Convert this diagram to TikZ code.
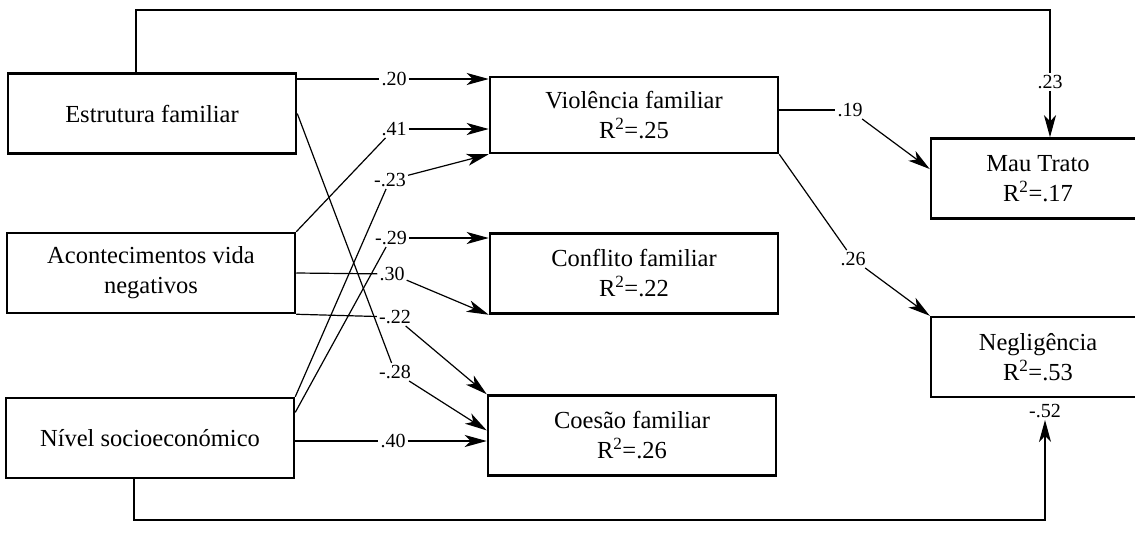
\documentclass[tikz,border=0pt]{standalone}
\usepackage{fontspec}
\setmainfont{Liberation Serif}
\usetikzlibrary{arrows.meta}
\tikzset{
box/.style={
	  draw, line width=2.5pt, rectangle, align=center, minimum
    width=288pt, minimum height=80pt, inner sep=0pt,
	    font=\fontsize{24.5}{30}\selectfont},
coef/.style={inner sep=2pt, font=\fontsize{20}{24}\selectfont},
link/.style={line width=1.2pt},
effect/.style={link, -{Stealth[length=22pt, width=12pt, inset=6pt]}}
}
\newcommand{\rsq}[1]{R\textsuperscript{2}=#1}

\begin{document}
\begin{tikzpicture}[x=1pt, y=-1pt]
	\useasboundingbox (0,0) rectangle (1135,539);
	\node[box] (estrutura) at (152,113.5) {Estrutura familiar};
	\node[box] (acontecimentos) at (151,273) {Acontecimentos vida\\negativos};
	\node[box] (nivel) at (150,438) {Nível socioeconómico};
	\node[box, minimum height=76pt] (violencia) at (634,115) {Violência familiar\\\rsq{.25}};
	\node[box] (conflito) at (634,273.5) {Conflito familiar\\\rsq{.22}};
	\node[box] (coesao) at (632,435.5) {Coesão familiar\\\rsq{.26}};
	\node[box, minimum width=214pt] (mautrato) at (1038,178.5) {Mau Trato\\\rsq{.17}};
	\node[box, minimum width=214pt] (negligencia) at (1038,357) {Negligência\\\rsq{.53}};

	\node[coef] (c20) at (394,79) {.20};
	\node[coef] (c41) at (394,129) {.41};
	\node[coef] (c23) at (390,180) {-.23};
	\node[coef] (c29) at (391,238) {-.29};
	\node[coef] (c30) at (392,274) {.30};
	\node[coef] (c22) at (395,317) {-.22};
	\node[coef] (c28) at (395,372) {-.28};
	\node[coef] (c40) at (393,441) {.40};
	\node[coef] (c19) at (850,110) {.19};
	\node[coef] (c26) at (853,259) {.26};
	\node[coef] (c23mt) at (1050,82) {.23};
	\node[coef] (c52) at (1045,411) {-.52};
	\coordinate (top) at (0,10);
	\coordinate (bottom) at (0,520);

	\draw[link] (estrutura.east |- c20) -- (c20);
	\draw[effect] (c20) -- (violencia.west |- c20);
	\draw[link] (acontecimentos.north east) -- (c41);
	\draw[effect] (c41) -- (violencia.west |- c41);
	\draw[link] (nivel.north east) -- (c23);
	\draw[effect] (c23) -- (violencia.south west);
	\draw[link] (nivel.10) -- (c29);
	\draw[effect] (c29) -- (conflito.west |- c29);
	\draw[link] (acontecimentos.east) -- (c30);
	\draw[effect] (c30) -- (conflito.south west);
	\draw[link] (acontecimentos.south east) -- (c22);
	\draw[effect] (c22) -- (coesao.north west);
	\draw[link] (estrutura.east) -- (c28);
	\draw[effect] (c28) -- (coesao.178);
	\draw[link] (nivel.east |- c40) -- (c40);
	\draw[effect] (c40) -- (coesao.west |- c40);
	\draw[link] (violencia.east |- c19) -- (c19);
	\draw[effect] (c19) -- (mautrato.175);
	\draw[link] (violencia.south east) -- (c26);
	\draw[effect] (c26) -- (negligencia.north west);
	\draw[link] ([xshift=-16pt]estrutura.north) |- (top -| c23mt) -- (c23mt);
	\draw[effect] (c23mt) -- (mautrato.north -| c23mt);
	\draw[effect] ([xshift=-16pt]nivel.south) |- (bottom -| c52) -- (c52);

\end{tikzpicture}
\end{document}
